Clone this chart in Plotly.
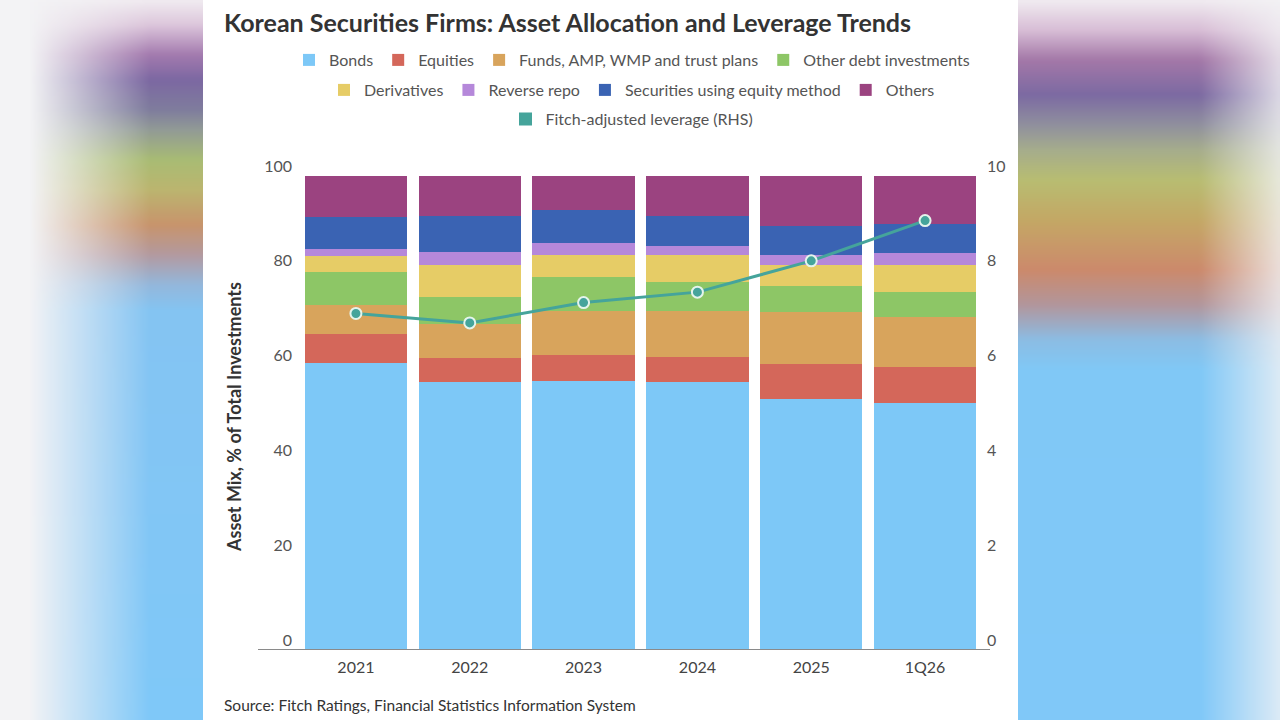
import base64
import struct
import zlib

import numpy as np
import plotly.graph_objects as go

# data
periods = ['2021', '2022', '2023', '2024', '2025', '1Q26']
bonds = [60.5, 56.5, 56.8, 56.5, 52.9, 52.1]
equities = [6.1, 5.1, 5.4, 5.4, 7.5, 7.7]
funds = [6.2, 7.2, 9.3, 9.6, 10.9, 10.4]
other_debt = [6.9, 5.6, 7.2, 6.2, 5.4, 5.3]
derivatives = [3.4, 6.8, 4.6, 5.6, 4.5, 5.7]
reverse_repo = [1.6, 2.8, 2.6, 2.0, 2.1, 2.6]
equity_method = [6.7, 7.6, 7.0, 6.3, 6.1, 6.1]
others = [8.5, 8.4, 7.1, 8.4, 10.6, 10.1]
leverage = [7.1, 6.9, 7.33, 7.55, 8.21, 9.06]

left_ticks = [0, 20, 40, 60, 80, 100]
right_ticks = [0, 2, 4, 6, 8, 10]

W, H = 1280, 720
L, R, T, B = 299, 298, 176, 70
PW, PH = W - L - R, H - T - B
FONT = 'Lato'
TEAL = '#45a49b'


def px_x(x):
    return (x - L) / PW


def px_y(y):
    return (H - B - y) / PH


def hex_rgb(h):
    h = h.lstrip('#')
    return [int(h[i:i + 2], 16) for i in (0, 2, 4)]


def profile(stops, ys):
    pos = [s[0] for s in stops]
    cols = np.array([hex_rgb(s[1]) for s in stops], dtype=float)
    return np.stack([np.interp(ys, pos, cols[:, k]) for k in range(3)], axis=1)


def to_png(arr):
    h, w, _ = arr.shape
    raw = b''.join(b'\x00' + arr[i].tobytes() for i in range(h))

    def chunk(tag, data):
        c = struct.pack('>I', len(data)) + tag + data
        return c + struct.pack('>I', zlib.crc32(tag + data) & 0xffffffff)

    png = b'\x89PNG\r\n\x1a\n'
    png += chunk(b'IHDR', struct.pack('>IIBBBBB', w, h, 8, 2, 0, 0, 0))
    png += chunk(b'IDAT', zlib.compress(raw, 9))
    png += chunk(b'IEND', b'')
    return 'data:image/png;base64,' + base64.b64encode(png).decode()


# blurred backdrop at the sides
left_stops = [(0, '#f1ecf1'), (25, '#dcc6db'), (55, '#a37aae'), (80, '#7c68a2'),
              (110, '#7f7d9d'), (130, '#929b96'), (160, '#a9bc74'), (190, '#bcb56f'),
              (225, '#c8946c'), (255, '#b39aa0'), (285, '#94b8dc'), (310, '#84c4f2'),
              (720, '#7fc8f8')]
right_stops = [(0, '#f1ecf1'), (30, '#d8bed6'), (60, '#a478a8'), (95, '#7c6aa2'),
               (125, '#90909e'), (150, '#a6ad8c'), (180, '#b8bd72'), (220, '#c4a865'),
               (270, '#cc8a6c'), (305, '#b2969c'), (340, '#8cbde4'), (370, '#80c8f6'),
               (720, '#80c8f8')]
sc = 4
ys = np.arange(H // sc) * sc + sc / 2
xs = np.arange(W // sc) * sc + sc / 2
lc = profile(left_stops, ys)
rc = profile(right_stops, ys)
bg = np.array(hex_rgb('#f3f3f5'), dtype=float)
a_left = np.clip((xs - 30) / 120, 0, 1)
a_right = 1 - 0.8 * np.clip((xs - 1200) / 80, 0, 1)
alpha = np.where(xs < W / 2, a_left, a_right)[None, :, None]
cols = np.where((xs < W / 2)[None, :, None], lc[:, None, :], rc[:, None, :])
img = (alpha * cols + (1 - alpha) * bg).round().astype(np.uint8)

fig = go.Figure()

series = [
    ('Bonds', bonds, '#7dc8f7', 'legend'),
    ('Equities', equities, '#d4675a', 'legend'),
    ('Funds, AMP, WMP and trust plans', funds, '#d8a45c', 'legend'),
    ('Other debt investments', other_debt, '#8dc666', 'legend'),
    ('Derivatives', derivatives, '#e6cc66', 'legend2'),
    ('Reverse repo', reverse_repo, '#b588da', 'legend2'),
    ('Securities using equity method', equity_method, '#3a63b3', 'legend2'),
    ('Others', others, '#9b4380', 'legend2'),
]
for name, vals, color, leg in series:
    fig.add_trace(go.Bar(
        x=periods, y=vals, name=name,
        marker=dict(color=color, line=dict(width=0)),
        legend=leg,
    ))

fig.add_trace(go.Scatter(
    x=periods, y=leverage, yaxis='y2', mode='lines+markers',
    line=dict(color=TEAL, width=3),
    marker=dict(size=11, color=TEAL, line=dict(color='#e4f4ec', width=2)),
    showlegend=False,
))
# square swatch for the leverage legend entry
fig.add_trace(go.Scatter(
    x=[None], y=[None], mode='markers', name='Fitch-adjusted leverage (RHS)',
    marker=dict(symbol='square', size=13, color=TEAL),
    legend='legend3',
))

leg_font = dict(family=FONT, size=16, color='#555555')
leg_common = dict(orientation='h', xanchor='center', yanchor='middle',
                  font=leg_font, bgcolor='rgba(0,0,0,0)', traceorder='normal')

fig.update_layout(
    width=W, height=H,
    margin=dict(l=L, r=R, t=T, b=B, autoexpand=False),
    paper_bgcolor='#f3f3f5',
    plot_bgcolor='rgba(0,0,0,0)',
    barmode='stack',
    bargap=0.1,
    font=dict(family=FONT, color='#444444'),
    showlegend=True,
    legend=dict(x=px_x(632), y=px_y(60), **leg_common),
    legend2=dict(x=px_x(632), y=px_y(90), **leg_common),
    legend3=dict(x=px_x(632), y=px_y(119), **leg_common),
    xaxis=dict(
        range=[-0.5, 5.5], showgrid=False, zeroline=False, showline=False,
        ticks='', tickfont=dict(family=FONT, size=16, color='#444444'),
        ticklabelstandoff=6,
    ),
    yaxis=dict(
        range=[0, 100], tickvals=left_ticks, showgrid=False, zeroline=False,
        showline=False, ticks='', ticklabelshift=-10, ticklabelstandoff=6,
        tickfont=dict(family=FONT, size=16, color='#555555'),
    ),
    yaxis2=dict(
        range=[0, 10], tickvals=right_ticks, overlaying='y', side='right',
        showgrid=False, zeroline=False, showline=False, ticks='',
        ticklabelshift=-10, ticklabelstandoff=4,
        tickfont=dict(family=FONT, size=16, color='#555555'),
    ),
    images=[dict(
        source=to_png(img), xref='paper', yref='paper',
        x=px_x(0), y=px_y(0), sizex=W / PW, sizey=H / PH,
        xanchor='left', yanchor='top', sizing='stretch', layer='below',
    )],
    shapes=[
        dict(type='rect', xref='paper', yref='paper', layer='below',
             x0=px_x(203), x1=px_x(1018), y0=px_y(H), y1=px_y(0),
             fillcolor='white', line=dict(width=0)),
        dict(type='line', xref='paper', yref='y', layer='above',
             x0=px_x(258), x1=px_x(990), y0=0, y1=0,
             line=dict(color='#8a8a8a', width=2)),
    ],
    annotations=[
        dict(text='Korean Securities Firms: Asset Allocation and Leverage Trends',
             xref='paper', yref='paper', x=px_x(222), y=px_y(22),
             xanchor='left', yanchor='middle', showarrow=False,
             font=dict(family=FONT, size=25, color='#333333', weight='bold')),
        dict(text='Asset Mix, % of Total Investments',
             xref='paper', yref='paper', x=px_x(234), y=px_y(417),
             xanchor='center', yanchor='middle', textangle=-90, showarrow=False,
             font=dict(family=FONT, size=18, color='#333333', weight='bold')),
        dict(text='Source: Fitch Ratings, Financial Statistics Information System',
             xref='paper', yref='paper', x=px_x(222), y=px_y(705),
             xanchor='left', yanchor='middle', showarrow=False,
             font=dict(family=FONT, size=15.5, color='#333333')),
    ],
)

fig.write_html('out.html', config={'displayModeBar': False},
               post_script="document.body.style.margin='0';")
